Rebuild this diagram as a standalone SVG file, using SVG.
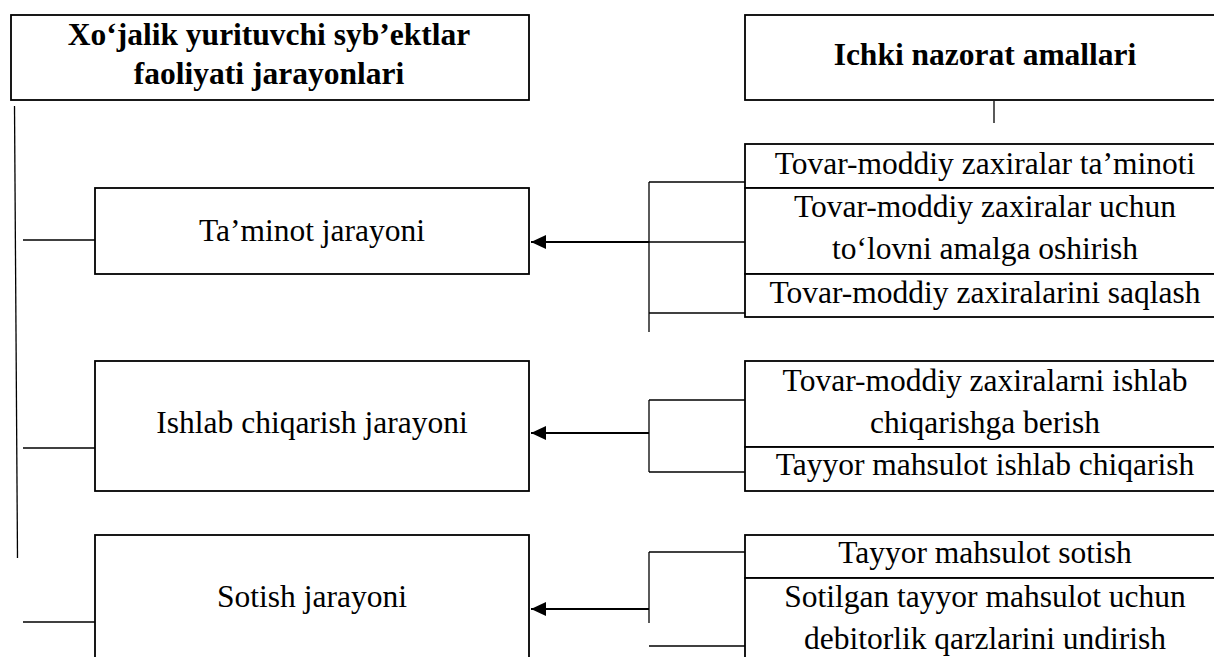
<svg xmlns="http://www.w3.org/2000/svg" width="1214" height="657" viewBox="0 0 1214 657">
<style>
.box{fill:#fff;stroke:#000;stroke-width:1.8}
.t{font-family:'Liberation Serif',serif;font-size:31.5px;fill:#000;text-anchor:middle}
.b{font-weight:bold}
.c{stroke:#000;stroke-width:1.3;fill:none}
.a{stroke:#000;stroke-width:2.2;fill:none}
</style>
<defs>
<marker id="ah" markerUnits="userSpaceOnUse" markerWidth="16" markerHeight="16" refX="15" refY="7" orient="auto">
<path d="M0,0 L15,7 L0,14 Z" fill="#000"/>
</marker>
</defs>
<rect width="1214" height="657" fill="#fff"/>
<g id="connectors">
<line class="c" x1="14.5" y1="106" x2="17.5" y2="558"/>
<line class="c" x1="23" y1="240" x2="95" y2="240"/>
<line class="c" x1="23" y1="448" x2="95" y2="448"/>
<line class="c" x1="23" y1="622" x2="95" y2="622"/>
<line class="c" x1="994" y1="101" x2="994" y2="123"/>
<line class="c" x1="649" y1="182" x2="649" y2="332"/>
<line class="c" x1="649" y1="182" x2="745" y2="182"/>
<line class="c" x1="649" y1="242" x2="745" y2="242" stroke-width="1"/>
<line class="c" x1="649" y1="313" x2="745" y2="313"/>
<line class="a" x1="649" y1="242" x2="531" y2="242" marker-end="url(#ah)"/>
<line class="c" x1="649" y1="400" x2="649" y2="472"/>
<line class="c" x1="649" y1="400" x2="745" y2="400"/>
<line class="c" x1="649" y1="472" x2="745" y2="472"/>
<line class="a" x1="649" y1="433" x2="531" y2="433" marker-end="url(#ah)"/>
<line class="c" x1="649" y1="552" x2="649" y2="623"/>
<line class="c" x1="649" y1="552" x2="745" y2="552"/>
<line class="c" x1="649" y1="646" x2="745" y2="646"/>
<line class="a" x1="649" y1="609" x2="531" y2="609" marker-end="url(#ah)"/>
</g>
<g id="n-xojalik">
<rect class="box" x="11" y="15" width="518" height="85"/>
<text class="t b" x="269" y="45">Xo‘jalik yurituvchi syb’ektlar</text>
<text class="t b" x="269" y="84">faoliyati jarayonlari</text>
</g>
<g id="n-ichki">
<rect class="box" x="745" y="15" width="490" height="85"/>
<text class="t b" x="985" y="65">Ichki nazorat amallari</text>
</g>
<g id="n-taminot">
<rect class="box" x="95" y="188" width="434" height="86"/>
<text class="t" x="312" y="241">Ta’minot jarayoni</text>
</g>
<g id="n-ishlab">
<rect class="box" x="95" y="361" width="434" height="130"/>
<text class="t" x="312" y="433">Ishlab chiqarish jarayoni</text>
</g>
<g id="n-sotish">
<rect class="box" x="95" y="535" width="434" height="140"/>
<text class="t" x="312" y="607">Sotish jarayoni</text>
</g>
<g id="n-s1">
<rect class="box" x="745" y="144" width="490" height="44"/>
<text class="t" x="985" y="174">Tovar-moddiy zaxiralar ta’minoti</text>
</g>
<g id="n-s2">
<rect class="box" x="745" y="188" width="490" height="86"/>
<text class="t" x="985" y="217">Tovar-moddiy zaxiralar uchun</text>
<text class="t" x="985" y="259">to‘lovni amalga oshirish</text>
</g>
<g id="n-s3">
<rect class="box" x="745" y="274" width="490" height="43"/>
<text class="t" x="985" y="303">Tovar-moddiy zaxiralarini saqlash</text>
</g>
<g id="n-i1">
<rect class="box" x="745" y="361" width="490" height="86"/>
<text class="t" x="985" y="391">Tovar-moddiy zaxiralarni ishlab</text>
<text class="t" x="985" y="433">chiqarishga berish</text>
</g>
<g id="n-i2">
<rect class="box" x="745" y="447" width="490" height="44"/>
<text class="t" x="985" y="475">Tayyor mahsulot ishlab chiqarish</text>
</g>
<g id="n-o1">
<rect class="box" x="745" y="535" width="490" height="43"/>
<text class="t" x="985" y="563">Tayyor mahsulot sotish</text>
</g>
<g id="n-o2">
<rect class="box" x="745" y="578" width="490" height="100"/>
<text class="t" x="985" y="607">Sotilgan tayyor mahsulot uchun</text>
<text class="t" x="985" y="649">debitorlik qarzlarini undirish</text>
</g>
</svg>
